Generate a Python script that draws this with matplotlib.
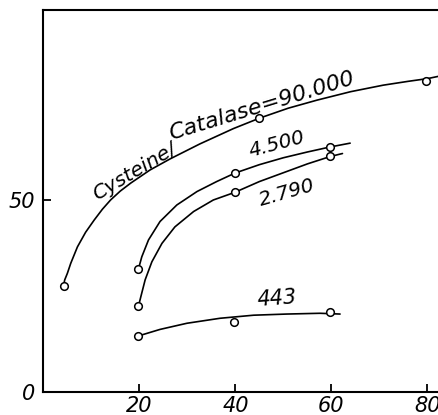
import matplotlib
matplotlib.use('Agg')
import matplotlib.pyplot as plt

# measured points (x, y) for each cysteine/catalase ratio
pts_x_90000 = [4.2, 45, 79.8]
pts_y_90000 = [27.7, 71.3, 81.0]
pts_x_4500 = [19.8, 39.9, 59.7]
pts_y_4500 = [32.0, 57.0, 63.9]
pts_x_2790 = [19.8, 39.9, 59.7]
pts_y_2790 = [22.3, 52.0, 61.5]
pts_x_443 = [19.8, 39.8, 59.7]
pts_y_443 = [14.6, 18.3, 20.8]

# hand-drawn guide curves
curve_x_90000 = [4.2, 4.45, 5.0, 5.7, 7.1, 8.8, 10.6, 12.3, 14.0, 16.0, 18.2, 22.2, 26.4, 32.6, 39.6, 45, 51, 57, 64, 70.8, 76, 80, 82.3]
curve_y_90000 = [27.7, 29.2, 30.9, 33.5, 37.8, 41.6, 44.8, 47.6, 50.0, 52.3, 54.4, 57.8, 60.7, 64.6, 68.6, 71.3, 73.9, 76.0, 78.2, 79.9, 80.9, 81.6, 82.2]
curve_x_4500 = [19.8, 20.5, 21.9, 24.3, 27.8, 32.0, 36.1, 39.9, 45, 50, 55, 59.7, 63.9]
curve_y_4500 = [32.0, 35.2, 39.6, 44.4, 48.7, 52.2, 54.8, 57.0, 59.2, 61.0, 62.5, 63.8, 64.8]
curve_x_2790 = [19.8, 20.3, 21.2, 22.6, 24.7, 27.4, 31.3, 35.4, 39.9, 45, 50, 55, 59.7, 62.3]
curve_y_2790 = [22.3, 24.8, 29.2, 33.9, 38.7, 43.0, 47.0, 50.0, 52.0, 54.8, 57.1, 59.4, 61.3, 62.1]
curve_x_443 = [19.8, 24.3, 29.9, 36.8, 43.8, 50.7, 57.6, 61.8]
curve_y_443 = [14.6, 16.3, 17.9, 19.2, 20.0, 20.3, 20.5, 20.3]

labels = ["Cysteine/", "Catalase=90.000", "4.500", "2.790", "443"]

x_ticks = [20, 40, 60, 80]
y_ticks = [0, 50]

fig = plt.figure(figsize=(4.38, 4.15), dpi=100)
ax = fig.add_axes([0.099, 0.0554, 0.901, 0.9217])

curves = [
    (curve_x_90000, curve_y_90000, pts_x_90000, pts_y_90000),
    (curve_x_4500, curve_y_4500, pts_x_4500, pts_y_4500),
    (curve_x_2790, curve_y_2790, pts_x_2790, pts_y_2790),
    (curve_x_443, curve_y_443, pts_x_443, pts_y_443),
]
for cx, cy, px, py in curves:
    ax.plot(cx, cy, color='black', lw=1.2, solid_capstyle='round', solid_joinstyle='round')
    ax.plot(px, py, 'o', ms=5.5, mfc='white', mec='black', mew=1.1)

# curve labels (the long one bends along its curve, so it is set in two pieces)
font = dict(family='DejaVu Sans', style='italic', color='black', rotation_mode='anchor')
ax.text(11.2, 49.8, labels[0], fontsize=14.5, rotation=31, ha='left', va='baseline', **font)
ax.text(26.6, 65.6, labels[1], fontsize=16, rotation=17, ha='left', va='baseline', **font)
ax.text(48.6, 64.6, labels[2], fontsize=14.5, rotation=15, ha='center', va='center', **font)
ax.text(50.8, 52.0, labels[3], fontsize=14.5, rotation=16, ha='center', va='center', **font)
ax.text(48.7, 24.2, labels[4], fontsize=15, rotation=4, ha='center', va='center', **font)

ax.set_xlim(0, 82.2)
ax.set_ylim(0, 99.6)
ax.set_xticks(x_ticks)
ax.set_yticks(y_ticks)
ax.set_xticklabels([str(v) for v in x_ticks], fontsize=15, style='italic')
ax.set_yticklabels([str(v) for v in y_ticks], fontsize=15, style='italic')
ax.tick_params(direction='in', length=6, width=1.3, pad=3)
ax.tick_params(axis='y', pad=6)

ax.spines['right'].set_visible(False)
for s in ['left', 'bottom', 'top']:
    ax.spines[s].set_linewidth(1.5)

fig.savefig('out.png', dpi=100)
